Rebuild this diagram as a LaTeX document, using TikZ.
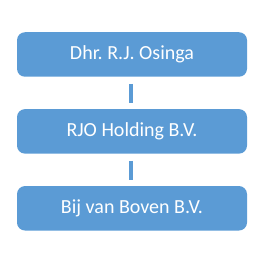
\documentclass[tikz,border=0pt]{standalone}
\usepackage{fontspec}
\setmainfont{Carlito}
\usepackage{tikz}
\usetikzlibrary{positioning}
\definecolor{blu}{HTML}{5B9BD5}
\frenchspacing

\begin{document}
\begin{tikzpicture}[
    box/.style={fill=blu, text=white, rounded corners=8pt, minimum width=230pt,
      minimum height=44.5pt, inner sep=0pt, font=\fontsize{20}{24}\selectfont},
    link/.style={blu, line width=4pt, shorten <=7pt, shorten >=6pt}]
  \useasboundingbox (0,0) rectangle (267pt,261pt);
  % Boxes
  \node[box] (osinga) at (132pt,206.5pt) {Dhr. R.J. Osinga};
  \node[box, below=32pt of osinga] (rjo) {RJO Holding B.V.};
  \node[box, below=32pt of rjo] (boven) {Bij van Boven B.V.};
  % Links
  \draw[link] ([xshift=-1.5pt]osinga.south) -- ([xshift=-1.5pt]rjo.north);
  \draw[link] ([xshift=-1pt]rjo.south) -- ([xshift=-1pt]boven.north);
\end{tikzpicture}
\end{document}
